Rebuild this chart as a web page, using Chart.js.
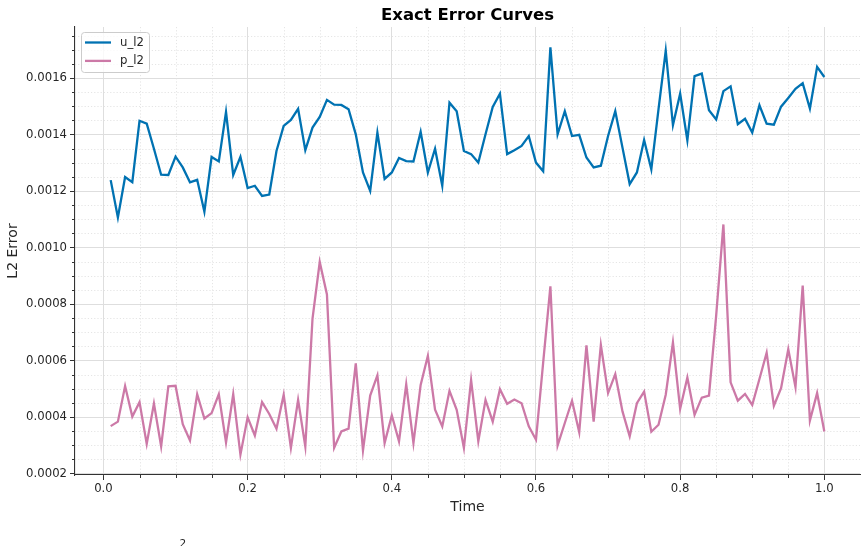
<!DOCTYPE html>
<html><head><meta charset="utf-8">
<script src="https://cdn.jsdelivr.net/npm/chart.js@4.4.0/dist/chart.umd.min.js"></script>
<style>html,body{margin:0;padding:0;background:#fff;} #wrap{width:867px;height:546px;position:relative;}</style>
</head><body><div id="wrap"><canvas id="c" width="867" height="546"></canvas></div>
<script>
const times = [0.01,0.02,0.03,0.04,0.05,0.06,0.07,0.08,0.09,0.10,
0.11,0.12,0.13,0.14,0.15,0.16,0.17,0.18,0.19,0.20,
0.21,0.22,0.23,0.24,0.25,0.26,0.27,0.28,0.29,0.30,
0.31,0.32,0.33,0.34,0.35,0.36,0.37,0.38,0.39,0.40,
0.41,0.42,0.43,0.44,0.45,0.46,0.47,0.48,0.49,0.50,
0.51,0.52,0.53,0.54,0.55,0.56,0.57,0.58,0.59,0.60,
0.61,0.62,0.63,0.64,0.65,0.66,0.67,0.68,0.69,0.70,
0.71,0.72,0.73,0.74,0.75,0.76,0.77,0.78,0.79,0.80,
0.81,0.82,0.83,0.84,0.85,0.86,0.87,0.88,0.89,0.90,
0.91,0.92,0.93,0.94,0.95,0.96,0.97,0.98,0.99,1.00];

const uL2 = [0.001239,0.001107,0.00125,0.001232,0.001449,0.001439,0.00135,0.001258,0.001257,0.001322,
0.001284,0.001231,0.00124,0.001127,0.001321,0.001305,0.00148,0.001257,0.001321,0.001211,
0.001219,0.001183,0.001188,0.001342,0.001431,0.001452,0.001491,0.001345,0.001425,0.001463,
0.001523,0.001506,0.001505,0.00149,0.001401,0.001266,0.001201,0.001407,0.001243,0.001266,
0.001317,0.001306,0.001305,0.00141,0.001266,0.00135,0.001219,0.001513,0.001483,0.001342,
0.001331,0.001301,0.001401,0.001498,0.001545,0.001331,0.001345,0.00136,0.001395,0.001301,
0.00127,0.001709,0.001401,0.001483,0.001395,0.001399,0.001319,0.001284,0.00129,0.001395,
0.001483,0.001354,0.001225,0.001266,0.001381,0.001277,0.00149,0.001697,0.001434,0.001545,
0.00138,0.001607,0.001616,0.001486,0.001454,0.001554,0.001571,0.001437,0.001456,0.001407,
0.001504,0.001439,0.001435,0.001499,0.00153,0.001562,0.001582,0.001492,0.00164,0.001604];

const pL2 = [0.000368,0.000384,0.00051,0.000402,0.000453,0.000305,0.000448,0.000296,0.000509,0.000511,
0.000375,0.000317,0.000481,0.000395,0.000414,0.000481,0.00031,0.000481,0.000267,0.000399,
0.000335,0.000453,0.000411,0.000359,0.000479,0.000291,0.000461,0.000296,0.000749,0.000949,
0.000834,0.000291,0.000349,0.000359,0.00059,0.000282,0.000476,0.000548,0.000308,0.000406,
0.000314,0.000516,0.000308,0.000514,0.000617,0.000426,0.000367,0.000493,0.000426,0.000291,
0.000531,0.000314,0.000461,0.000384,0.000499,0.000447,0.000462,0.000449,0.000367,0.00032,
0.000594,0.000863,0.000299,0.000379,0.000458,0.000346,0.000654,0.000384,0.000655,0.000485,
0.000552,0.00042,0.000332,0.000449,0.00049,0.000348,0.000373,0.000479,0.000664,0.000429,
0.00054,0.000408,0.000469,0.000476,0.00076,0.001082,0.000523,0.000458,0.000482,0.000443,
0.000535,0.000628,0.00044,0.000502,0.00064,0.000506,0.000866,0.000388,0.000485,0.000349];

const seriesLabels = ['u_l2', 'p_l2'];
const seriesColors = ['#0072B2', '#CC79A7'];
const chartTitle = 'Exact Error Curves';
const xTitle = 'Time';
const yTitle = 'L2 Error';

const xMajorTicks = [0.0, 0.2, 0.4, 0.6, 0.8, 1.0];
const xMinorTicks = [0.05,0.1,0.15,0.25,0.3,0.35,0.45,0.5,0.55,0.65,0.7,0.75,0.85,0.9,0.95];
const yMajorTicks = [0.0002,0.0004,0.0006,0.0008,0.0010,0.0012,0.0014,0.0016];
const yMinorTicks = [0.00025,0.0003,0.00035,0.00045,0.0005,0.00055,0.00065,0.0007,0.00075,
0.00085,0.0009,0.00095,0.00105,0.0011,0.00115,0.00125,0.0013,0.00135,0.00145,0.0015,0.00155,
0.00165,0.0017,0.00175];
const xRange = [-0.0395, 1.0495];
const yRange = [0.000195, 0.001781];

const FONT = "'DejaVu Sans', 'Liberation Sans', sans-serif";
const TXT = '#262626';

function al(v){ return Math.round(v) + 0.5; }

const decor = {
  id: 'decor',
  afterLayout(chart) {
    const t = chart.titleBlock;
    if (t) { t.left = chart.chartArea.left; t.right = chart.chartArea.right; t.width = t.right - t.left; }
  },
  beforeDatasetsDraw(chart) {
    const {ctx, chartArea: a, scales: {x, y}} = chart;
    ctx.save();
    ctx.beginPath(); ctx.rect(a.left, a.top, a.right - a.left, a.bottom - a.top); ctx.clip();
    ctx.strokeStyle = '#e2e2e2'; ctx.lineWidth = 0.9; ctx.setLineDash([1.2, 2]);
    xMinorTicks.forEach(v => { const px = al(x.getPixelForValue(v)); ctx.beginPath(); ctx.moveTo(px, a.top); ctx.lineTo(px, a.bottom); ctx.stroke(); });
    yMinorTicks.forEach(v => { const py = al(y.getPixelForValue(v)); ctx.beginPath(); ctx.moveTo(a.left, py); ctx.lineTo(a.right, py); ctx.stroke(); });
    ctx.restore();
  },
  afterDraw(chart) {
    const {ctx, chartArea: a, scales: {x, y}} = chart;
    ctx.save();
    ctx.strokeStyle = '#333'; ctx.lineWidth = 1; ctx.setLineDash([]);
    xMinorTicks.forEach(v => { const px = al(x.getPixelForValue(v)); ctx.beginPath(); ctx.moveTo(px, a.bottom); ctx.lineTo(px, a.bottom + 3); ctx.stroke(); });
    yMinorTicks.forEach(v => { const py = al(y.getPixelForValue(v)); ctx.beginPath(); ctx.moveTo(a.left - 3, py); ctx.lineTo(a.left, py); ctx.stroke(); });
    // legend
    const lx = a.left + 6.5, ly = a.top + 5.5, lw = 68, lh = 40, r = 3;
    ctx.beginPath();
    ctx.moveTo(lx + r, ly); ctx.lineTo(lx + lw - r, ly); ctx.arcTo(lx + lw, ly, lx + lw, ly + r, r);
    ctx.lineTo(lx + lw, ly + lh - r); ctx.arcTo(lx + lw, ly + lh, lx + lw - r, ly + lh, r);
    ctx.lineTo(lx + r, ly + lh); ctx.arcTo(lx, ly + lh, lx, ly + lh - r, r);
    ctx.lineTo(lx, ly + r); ctx.arcTo(lx, ly, lx + r, ly, r); ctx.closePath();
    ctx.fillStyle = 'rgba(255,255,255,0.8)'; ctx.fill();
    ctx.strokeStyle = '#cccccc'; ctx.lineWidth = 1; ctx.stroke();
    chart.data.datasets.forEach((ds, i) => {
      const yy = ly + 10 + i * 18.4;
      ctx.strokeStyle = ds.borderColor; ctx.lineWidth = 2.3;
      ctx.beginPath(); ctx.moveTo(lx + 3.5, yy); ctx.lineTo(lx + 29.5, yy); ctx.stroke();
      ctx.fillStyle = TXT; ctx.font = '11.7px ' + FONT; ctx.textBaseline = 'middle'; ctx.textAlign = 'left';
      ctx.fillText(ds.label, lx + 38.5, yy);
    });
    ctx.fillStyle = TXT; ctx.font = '10.5px ' + FONT; ctx.textBaseline = 'top'; ctx.textAlign = 'left';
    ctx.fillText('2', 179.5, 539.5);
    ctx.restore();
  }
};

new Chart(document.getElementById('c'), {
  type: 'line',
  data: {
    datasets: [
      { label: seriesLabels[0], data: times.map((t, i) => ({x: t, y: uL2[i]})), borderColor: seriesColors[0], backgroundColor: seriesColors[0], borderWidth: 2.3, pointRadius: 0, tension: 0, fill: false },
      { label: seriesLabels[1], data: times.map((t, i) => ({x: t, y: pL2[i]})), borderColor: seriesColors[1], backgroundColor: seriesColors[1], borderWidth: 2.3, pointRadius: 0, tension: 0, fill: false }
    ]
  },
  options: {
    responsive: false, animation: false, devicePixelRatio: 1,
    layout: { padding: { left: 0, right: 7, top: 0, bottom: 0 } },
    plugins: {
      legend: { display: false },
      tooltip: { enabled: false },
      title: { display: true, text: chartTitle, color: '#000', font: { family: FONT, size: 16.5, weight: 'bold' }, padding: { top: 5.5, bottom: 1.7 } }
    },
    scales: {
      x: {
        type: 'linear', min: xRange[0], max: xRange[1],
        afterBuildTicks: s => { s.ticks = xMajorTicks.map(v => ({value: v})); },
        afterFit: s => { s.height = 71; },
        ticks: { callback: v => Number(v).toFixed(1), color: TXT, font: { family: FONT, size: 11.7 }, padding: 2, maxRotation: 0, autoSkip: false },
        grid: { color: '#dedede', lineWidth: 1, drawTicks: true, tickLength: 5, tickColor: '#333', tickWidth: 1 },
        border: { display: true, color: '#333', width: 1.1 },
        title: { display: true, text: xTitle, color: TXT, font: { family: FONT, size: 14 }, padding: { top: 0, bottom: 30.6 } }
      },
      y: {
        type: 'linear', min: yRange[0], max: yRange[1],
        afterBuildTicks: s => { s.ticks = yMajorTicks.map(v => ({value: v})); },
        afterFit: s => { s.width = 75; },
        ticks: { callback: v => Number(v).toFixed(4), color: TXT, font: { family: FONT, size: 11.7 }, padding: 3, autoSkip: false },
        grid: { color: '#dedede', lineWidth: 1, drawTicks: true, tickLength: 5, tickColor: '#333', tickWidth: 1 },
        border: { display: true, color: '#333', width: 1.1 },
        title: { display: true, text: yTitle, color: TXT, font: { family: FONT, size: 14 }, padding: { top: 4.6, bottom: 0 } }
      }
    }
  },
  plugins: [decor]
});
</script></body></html>
